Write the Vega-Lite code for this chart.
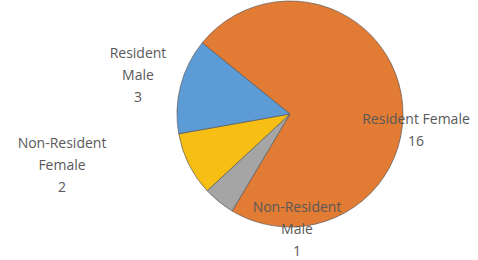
{
  "$schema": "https://vega.github.io/schema/vega-lite/v6.json",
  "width": 376,
  "height": 228,
  "autosize": {"type": "none"},
  "padding": {"left": 102, "right": 0, "top": 0, "bottom": 32},
  "background": "white",
  "view": {"stroke": null},
  "data": {
    "values": [
      {"idx": 1, "name": "Resident Female", "label": "Resident Female", "count": 16},
      {"idx": 2, "name": "Non-Resident Male", "label": "Non-Resident\nMale", "count": 1},
      {"idx": 3, "name": "Non-Resident Female", "label": "Non-Resident\nFemale", "count": 2},
      {"idx": 4, "name": "Resident Male", "label": "Resident\nMale", "count": 3}
    ]
  },
  "transform": [{"calculate": "datum.label + '\\n' + datum.count", "as": "text"}],
  "encoding": {
    "theta": {"field": "count", "type": "quantitative", "stack": true, "scale": {"range": [-0.89, 5.3932]}},
    "order": {"field": "idx", "type": "quantitative"}
  },
  "layer": [
    {
      "mark": {"type": "arc", "outerRadius": 113, "stroke": "#5a5a5a", "strokeWidth": 0.7},
      "encoding": {
        "color": {
          "field": "name", "type": "nominal", "legend": null,
          "scale": {
            "domain": ["Resident Female", "Non-Resident Male", "Non-Resident Female", "Resident Male"],
            "range": ["#E27B33", "#A5A5A5", "#F7BE13", "#5D9BD6"]
          }
        }
      }
    },
    {
      "transform": [{"filter": "datum.name === 'Resident Female'"}],
      "mark": {"type": "text", "radius": 0, "dx": 126, "dy": 6, "font": "Open Sans", "fontSize": 14, "lineBreak": "\n", "lineHeight": 22, "color": "#595959"},
      "encoding": {"text": {"field": "text", "type": "nominal"}, "theta": {"value": 0}}
    },
    {
      "transform": [{"filter": "datum.name === 'Non-Resident Male'"}],
      "mark": {"type": "text", "radius": 0, "dx": 7, "dy": 94, "font": "Open Sans", "fontSize": 14, "lineBreak": "\n", "lineHeight": 22, "color": "#595959"},
      "encoding": {"text": {"field": "text", "type": "nominal"}, "theta": {"value": 0}}
    },
    {
      "transform": [{"filter": "datum.name === 'Non-Resident Female'"}],
      "mark": {"type": "text", "radius": 0, "dx": -228, "dy": 30, "font": "Open Sans", "fontSize": 14, "lineBreak": "\n", "lineHeight": 22, "color": "#595959"},
      "encoding": {"text": {"field": "text", "type": "nominal"}, "theta": {"value": 0}}
    },
    {
      "transform": [{"filter": "datum.name === 'Resident Male'"}],
      "mark": {"type": "text", "radius": 0, "dx": -152, "dy": -60, "font": "Open Sans", "fontSize": 14, "lineBreak": "\n", "lineHeight": 22, "color": "#595959"},
      "encoding": {"text": {"field": "text", "type": "nominal"}, "theta": {"value": 0}}
    }
  ]
}
